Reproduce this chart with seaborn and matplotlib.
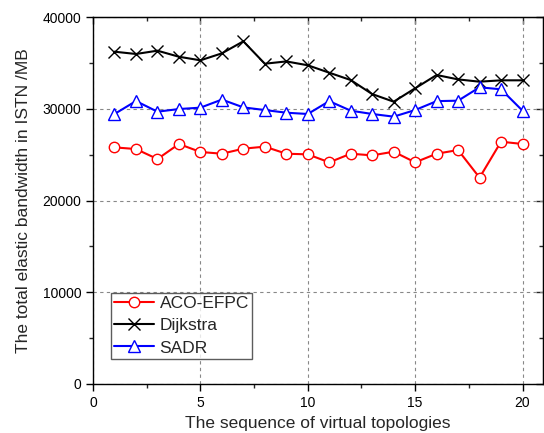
import numpy as np
import pandas as pd
import matplotlib
matplotlib.use("Agg")
import matplotlib.pyplot as plt
import seaborn as sns
from matplotlib.ticker import MultipleLocator
from matplotlib.lines import Line2D

topology = list(range(1, 21))
aco_efpc = [25790, 25610, 24520, 26160, 25290, 25100, 25650, 25870, 25100, 25030,
            24160, 25100, 24920, 25320, 24160, 25100, 25500, 22490, 26410, 26160]
dijkstra = [36220, 35970, 36330, 35670, 35280, 36040, 37350, 34910, 35160, 34740,
            33930, 33130, 31600, 30770, 32230, 33680, 33200, 32950, 33100, 33100]
sadr = [29430, 30840, 29680, 29970, 30120, 31000, 30150, 29860, 29570, 29430,
        30830, 29790, 29430, 29140, 29860, 30830, 30880, 32340, 32120, 29790]
series_names = ["ACO-EFPC", "Dijkstra", "SADR"]
series_values = [aco_efpc, dijkstra, sadr]

sns.set_style("white")
plt.rcParams["font.family"] = ["Liberation Sans", "DejaVu Sans"]

fig = plt.figure(figsize=(5.44, 4.33), dpi=100)
ax = fig.add_axes([0.171, 0.1132, 0.827, 0.8475])

colors = {"ACO-EFPC": "#ff0000", "Dijkstra": "#000000", "SADR": "#0000ff"}
styles = {
    "ACO-EFPC": dict(marker="o", markersize=7.5, markerfacecolor="white"),
    "Dijkstra": dict(marker="x", markersize=9),
    "SADR": dict(marker="^", markersize=9, markerfacecolor="white"),
}

handles = []
for name, vals in zip(series_names, series_values):
    c = colors[name]
    sd = pd.DataFrame({"x": topology, "y": vals})
    sns.lineplot(data=sd, x="x", y="y", ax=ax, color=c, linewidth=1.5,
                 markeredgecolor=c, markeredgewidth=1.0, **styles[name])
    handles.append(Line2D([], [], color=c, linewidth=1.5, markeredgecolor=c,
                          markeredgewidth=1.0, **styles[name]))

ax.set_xlim(0, 20.95)
ax.set_ylim(0, 40000)
ax.xaxis.set_major_locator(MultipleLocator(5))
ax.xaxis.set_minor_locator(MultipleLocator(2.5))
ax.yaxis.set_major_locator(MultipleLocator(10000))
ax.yaxis.set_minor_locator(MultipleLocator(5000))
ax.grid(True, which="major", linestyle=(0, (3, 3)), color="#888888", linewidth=0.8)

for s in ax.spines.values():
    s.set_color("black")
    s.set_linewidth(1.0)

ax.tick_params(which="major", direction="out", length=5, width=1, labelsize=10,
               bottom=True, left=True, colors="black")
ax.tick_params(axis="x", which="major", pad=4)
ax.tick_params(which="minor", direction="out", length=3, width=1,
               bottom=True, left=True)

top = ax.secondary_xaxis("top")
top.xaxis.set_major_locator(MultipleLocator(5))
top.xaxis.set_minor_locator(MultipleLocator(2.5))
top.tick_params(which="major", direction="in", length=5, width=1, labeltop=False)
top.tick_params(which="minor", direction="in", length=3, width=1)
right = ax.secondary_yaxis("right")
right.yaxis.set_major_locator(MultipleLocator(10000))
right.yaxis.set_minor_locator(MultipleLocator(5000))
right.tick_params(which="major", direction="in", length=5, width=1, labelright=False)
right.tick_params(which="minor", direction="in", length=3, width=1)

ax.set_xlabel("The sequence of virtual topologies", fontsize=12.5, labelpad=4)
ax.set_ylabel("The total elastic bandwidth in ISTN /MB", fontsize=12.5, labelpad=8)

leg = ax.legend(handles, series_names, loc="lower left", bbox_to_anchor=(0.04, 0.068),
                fontsize=12.5, frameon=True, fancybox=False, handlelength=2.3,
                borderpad=0.2, labelspacing=0.4, handletextpad=0.3, borderaxespad=0)
leg.get_frame().set_edgecolor("#333333")
leg.get_frame().set_linewidth(1.0)

fig.savefig("out.png", dpi=100)
